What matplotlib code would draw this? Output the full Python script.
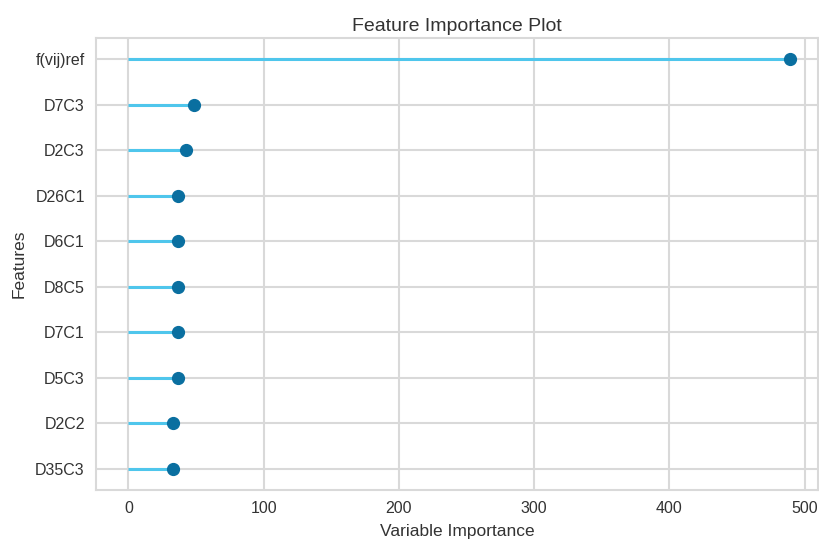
import matplotlib
matplotlib.use("Agg")
import matplotlib.pyplot as plt

features = ["f(vij)ref", "D7C3", "D2C3", "D26C1", "D6C1", "D8C5", "D7C1", "D5C3", "D2C2", "D35C3"]
importance = [489, 48.5, 42.5, 36.5, 36.5, 36.5, 36.5, 36.5, 33, 33]
xticks = [0, 100, 200, 300, 400, 500]

plt.rcParams['font.family'] = ['Liberation Sans', 'DejaVu Sans']

fig = plt.figure(figsize=(8.2, 5.4), dpi=100)
ax = fig.add_axes([0.117, 0.0926, 0.8806, 0.837])

ypos = list(range(len(features)))[::-1]
ax.hlines(ypos, 0, importance, color='#4fc6ec', linewidth=2.2, zorder=3)
ax.plot(importance, ypos, 'o', color='#0a6fa0', markersize=8.5, zorder=4)

ax.set_yticks(ypos)
ax.set_yticklabels(features)
ax.set_xticks(xticks)
ax.set_xlim(-24, 510)
ax.set_ylim(-0.46, len(features) - 1 + 0.46)

ax.grid(True, color='#d9d9d9', linewidth=1.5, zorder=0)
ax.set_axisbelow(True)
for s in ax.spines.values():
    s.set_color('#d9d9d9')
    s.set_linewidth(1.5)
ax.tick_params(axis='both', length=0, labelsize=11.5, colors='#333333', pad=8)

ax.set_title("Feature Importance Plot", fontsize=14, color='#333333', pad=5)
ax.set_xlabel("Variable Importance", fontsize=12.5, color='#333333', labelpad=6)
ax.set_ylabel("Features", fontsize=12.5, color='#333333', labelpad=6)

fig.savefig("out.png", dpi=100)
